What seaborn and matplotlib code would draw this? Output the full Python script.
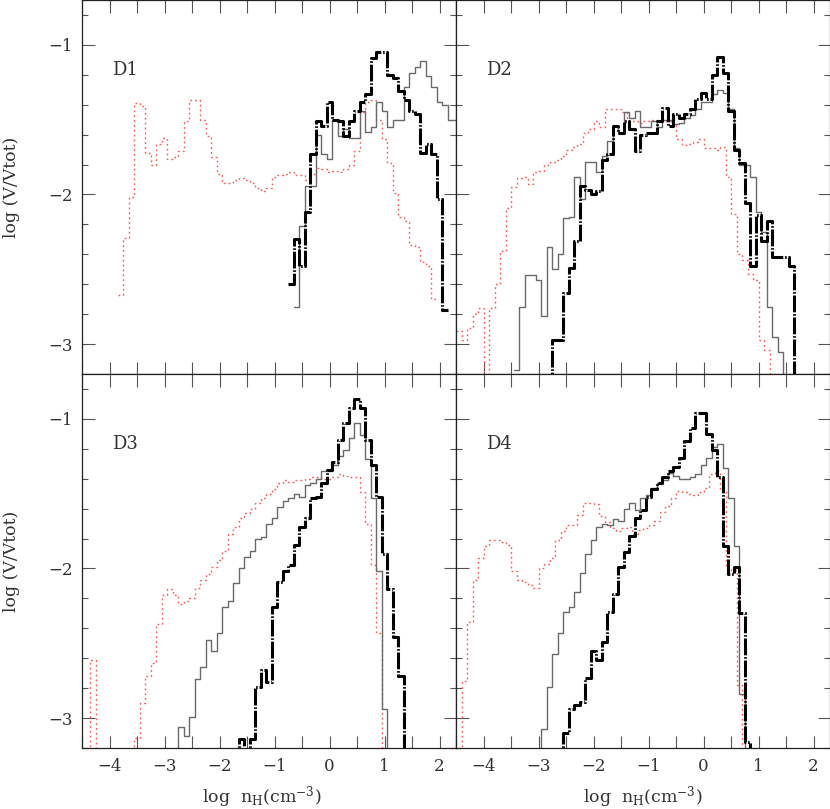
import numpy as np
import matplotlib
matplotlib.use("Agg")
import matplotlib.pyplot as plt
from matplotlib.ticker import MultipleLocator
import seaborn as sns

# bin width of the density histograms (dex) and the level used for empty bins
BIN = 0.1
FLOOR = -4.0

# ---- D1 ----
d1_red_start = -3.85
d1_red = [-2.67, -2.29, -2.02, -1.39, -1.41, -1.72, -1.80, -1.66, -1.62, -1.76,
          -1.75, -1.71, -1.51, -1.37, -1.37, -1.50, -1.61, -1.75, -1.86, -1.92,
          -1.92, -1.90, -1.89, -1.90, -1.92, -1.96, -1.98, -1.96, -1.88, -1.87,
          -1.86, -1.85, -1.87, -1.87, -1.90, -1.86, -1.82, -1.83, -1.85, -1.84,
          -1.85, -1.83, -1.80, -1.71, -1.45, -1.38, -1.37, -1.50, -1.63, -1.79,
          -1.99, -2.15, -2.18, -2.34, -2.35, -2.45, -2.48, -2.70]
d1_gray_start = -0.65
d1_gray = [-2.75, -2.21, -1.94, -1.94, -1.60, -1.73, -1.76, -1.50, -1.61, -1.56,
           -1.62, -1.62, -1.44, -1.58, -1.55, -1.38, -1.44, -1.55, -1.50, -1.50,
           -1.28, -1.19, -1.15, -1.11, -1.21, -1.28, -1.38, -1.40, -1.50, -1.50]
d1_black_start = -0.75
d1_black = [-2.60, -2.30, -2.48, -2.12, -1.73, -1.51, -1.54, -1.38, -1.50, -1.51,
            -1.61, -1.51, -1.44, -1.38, -1.33, -1.09, -1.05, -1.05, -1.20, -1.22,
            -1.31, -1.37, -1.44, -1.46, -1.72, -1.66, -1.73, -2.03, -2.77]

# ---- D2 ----
d2_red_start = -4.5
d2_red = [-2.91, -2.97, -2.89, -2.80, -2.76, None, -2.76, -2.60, -2.38, -2.09,
          -1.95, -1.89, -1.88, -1.93, -1.85, -1.84, -1.80, -1.78, -1.77, -1.74,
          -1.70, -1.68, -1.66, -1.59, -1.56, -1.51, -1.55, -1.43, -1.43, -1.43,
          -1.45, -1.51, -1.51, -1.52, -1.51, -1.50, -1.50, -1.51, -1.51, -1.53,
          -1.63, -1.67, -1.66, -1.65, -1.63, -1.69, -1.69, -1.70, -1.68, -1.88,
          -2.13, -2.40, -2.44, -2.53, -2.57, -2.97, -3.04, None]
d2_gray_start = -3.45
d2_gray = [-3.17, -2.75, -2.54, -2.54, -2.57, -2.81, -2.35, -2.50, -2.40, -2.16,
           -2.15, -1.88, -2.03, -1.78, -1.78, -1.85, -1.74, -1.64, -1.54, -1.59,
           -1.45, -1.49, -1.44, -1.55, -1.55, -1.51, -1.55, -1.50, -1.50, -1.53,
           -1.52, -1.49, -1.47, -1.43, -1.38, -1.38, -1.33, -1.30, -1.32, -1.43,
           -1.69, -1.80, -1.80, -1.88, -2.12, -2.25, -2.75, -2.95, -3.05, None]
d2_black_start = -2.85
d2_black = [None, -2.97, -2.97, -2.66, -2.49, -2.31, -1.94, -1.97, -2.00, -1.98,
            -1.77, -1.73, -1.54, -1.59, -1.51, -1.56, -1.71, -1.60, -1.59, -1.59,
            -1.51, -1.42, -1.54, -1.46, -1.49, -1.46, -1.43, -1.36, -1.32, -1.36,
            -1.20, -1.08, -1.19, -1.44, -1.70, -1.79, -2.06, -2.48, -2.14, -2.31,
            -2.18, -2.42, -2.42, -2.42, -2.48, None]

# ---- D3 ----
d3_red_start = -4.45
d3_red = [None, -2.61, None, None, None, None, None, None, None, -3.13,
          -2.90, -2.72, -2.63, -2.37, -2.18, -2.14, -2.18, -2.24, -2.22, -2.20,
          -2.13, -2.08, -2.04, -1.99, -1.94, -1.88, -1.77, -1.72, -1.66, -1.63,
          -1.60, -1.56, -1.53, -1.50, -1.47, -1.43, -1.41, -1.42, -1.41, -1.41,
          -1.40, -1.39, -1.39, -1.40, -1.40, -1.39, -1.37, -1.38, -1.39, -1.39,
          -1.49, -1.70, -1.98, -2.43, None]
d3_gray_start = -2.85
d3_gray = [None, -3.06, -3.12, -2.99, -2.74, -2.66, -2.48, -2.55, -2.43, -2.26,
           -2.22, -2.10, -2.00, -1.92, -1.88, -1.80, -1.79, -1.70, -1.66, -1.59,
           -1.55, -1.53, -1.50, -1.52, -1.44, -1.43, -1.40, -1.35, -1.35, -1.31,
           -1.25, -1.21, -1.13, -1.03, -1.11, -1.27, -1.53, -2.02, -2.94, None]
d3_black_start = -1.75
d3_black = [None, -3.14, None, -3.14, -2.79, -2.68, -2.76, -2.26, -2.09, -2.02,
            -1.98, -1.84, -1.72, -1.66, -1.53, -1.52, -1.43, -1.34, -1.29, -1.14,
            -1.03, -0.93, -0.87, -0.93, -1.14, -1.31, -1.52, -1.90, -2.14, -2.46,
            -2.72, None]

# ---- D4 ----
d4_red_start = -4.5
d4_red = [None, -2.75, -2.36, -2.08, -1.93, -1.85, -1.81, -1.81, -1.82, -1.84,
          -2.02, -2.08, -2.09, -2.11, -2.13, -2.00, -1.97, -1.93, -1.81, -1.75,
          -1.71, -1.71, -1.64, -1.56, -1.56, -1.57, -1.65, -1.69, -1.73, -1.75,
          -1.73, -1.72, -1.77, -1.74, -1.73, -1.71, -1.68, -1.62, -1.58, -1.53,
          -1.48, -1.49, -1.50, -1.51, -1.49, -1.46, -1.37, -1.35, -1.48, -2.00,
          -2.01, -2.78, None]
d4_gray_start = -3.05
d4_gray = [None, -3.07, -2.79, -2.57, -2.43, -2.29, -2.26, -2.16, -2.03, -1.90,
           -1.81, -1.72, -1.70, -1.71, -1.67, -1.68, -1.60, -1.56, -1.61, -1.53,
           -1.51, -1.46, -1.43, -1.41, -1.36, -1.38, -1.40, -1.40, -1.39, -1.37,
           -1.31, -1.26, -1.19, -1.17, -1.33, -1.53, -1.85, -2.84, None]
d4_black_start = -2.65
d4_black = [None, -3.10, -2.94, -2.91, -2.89, -2.73, -2.55, -2.61, -2.49, -2.29,
            -2.17, -1.99, -1.89, -1.78, -1.66, -1.61, -1.52, -1.47, -1.43, -1.39,
            -1.35, -1.32, -1.26, -1.15, -1.06, -0.96, -0.96, -1.10, -1.21, -1.39,
            -1.85, -2.04, -1.99, -2.30, -3.16, None]

panel_names = ["D1", "D2", "D3", "D4"]
panel_series = [
    [(d1_red_start, d1_red), (d1_gray_start, d1_gray), (d1_black_start, d1_black)],
    [(d2_red_start, d2_red), (d2_gray_start, d2_gray), (d2_black_start, d2_black)],
    [(d3_red_start, d3_red), (d3_gray_start, d3_gray), (d3_black_start, d3_black)],
    [(d4_red_start, d4_red), (d4_gray_start, d4_gray), (d4_black_start, d4_black)],
]

# red dotted, thin grey solid, thick black dash-dot
styles = [
    dict(color="#ff5a5a", lw=1.0, linestyle=(0, (1.3, 2.2))),
    dict(color="#6a6a6a", lw=1.0, linestyle="-"),
    dict(color="black", lw=2.2, linestyle=(0, (5.5, 0.6, 0.5, 0.6))),
]


def step_xy(start, vals):
    edges = start + BIN * np.arange(len(vals) + 1)
    y = [FLOOR if v is None else v for v in vals]
    y.append(y[-1])
    return edges, np.array(y)


sns.set_style("ticks")
plt.rcParams["font.family"] = ["DejaVu Serif"]
plt.rcParams["mathtext.fontset"] = "dejavuserif"

fig = plt.figure(figsize=(8.3, 8.09), dpi=100)
left, mid = 82 / 830, 456 / 830
bot, midy = 1 - 748 / 809, 1 - 374 / 809
w1, w2, h = mid - left, 1 - mid, 374 / 809
boxes = [[left, midy, w1, h], [mid, midy, w2, h], [left, bot, w1, h], [mid, bot, w2, h]]

txt_col = "#333333"
for i, (box, name, series) in enumerate(zip(boxes, panel_names, panel_series)):
    ax = fig.add_axes(box)
    for (start, vals), st in zip(series, styles):
        xs, ys = step_xy(start, vals)
        sns.lineplot(x=xs, y=ys, ax=ax, drawstyle="steps-post", estimator=None, **st)

    ax.set_xlim(-4.5, 2.3)
    ax.set_ylim(-3.2, -0.7)
    ax.xaxis.set_major_locator(MultipleLocator(1))
    ax.xaxis.set_minor_locator(MultipleLocator(0.5))
    ax.yaxis.set_major_locator(MultipleLocator(1))
    ax.yaxis.set_minor_locator(MultipleLocator(0.2))
    ax.tick_params(which="both", direction="in", top=True, right=True,
                   color="#555555", labelcolor=txt_col, width=0.8)
    ax.tick_params(which="major", length=9, labelsize=12, pad=7)
    ax.tick_params(axis="x", which="minor", length=9)
    ax.tick_params(axis="y", which="minor", length=4.5)
    for sp in ax.spines.values():
        sp.set_color("#222222")
        sp.set_linewidth(0.9)
    ax.set_xlabel("")
    ax.set_ylabel("")
    if i < 2:
        ax.tick_params(labelbottom=False)
    if i % 2 == 1:
        ax.tick_params(labelleft=False)
    ax.text(0.08, 0.813, name, transform=ax.transAxes, fontsize=13,
            color=txt_col, ha="left", va="center")

# axis titles
for yc in (187, 561):
    fig.text(12 / 830, 1 - yc / 809, "log (V/Vtot)", rotation=90, fontsize=12.5,
             color=txt_col, ha="center", va="center")
for xc in (262, 643):
    fig.text(xc / 830, 1 - 797 / 809,
             r"log  n$_\mathregular{H}$(cm$^\mathregular{-3}$)", fontsize=12.5,
             color=txt_col, ha="center", va="center")

fig.savefig("out.png", dpi=100)
